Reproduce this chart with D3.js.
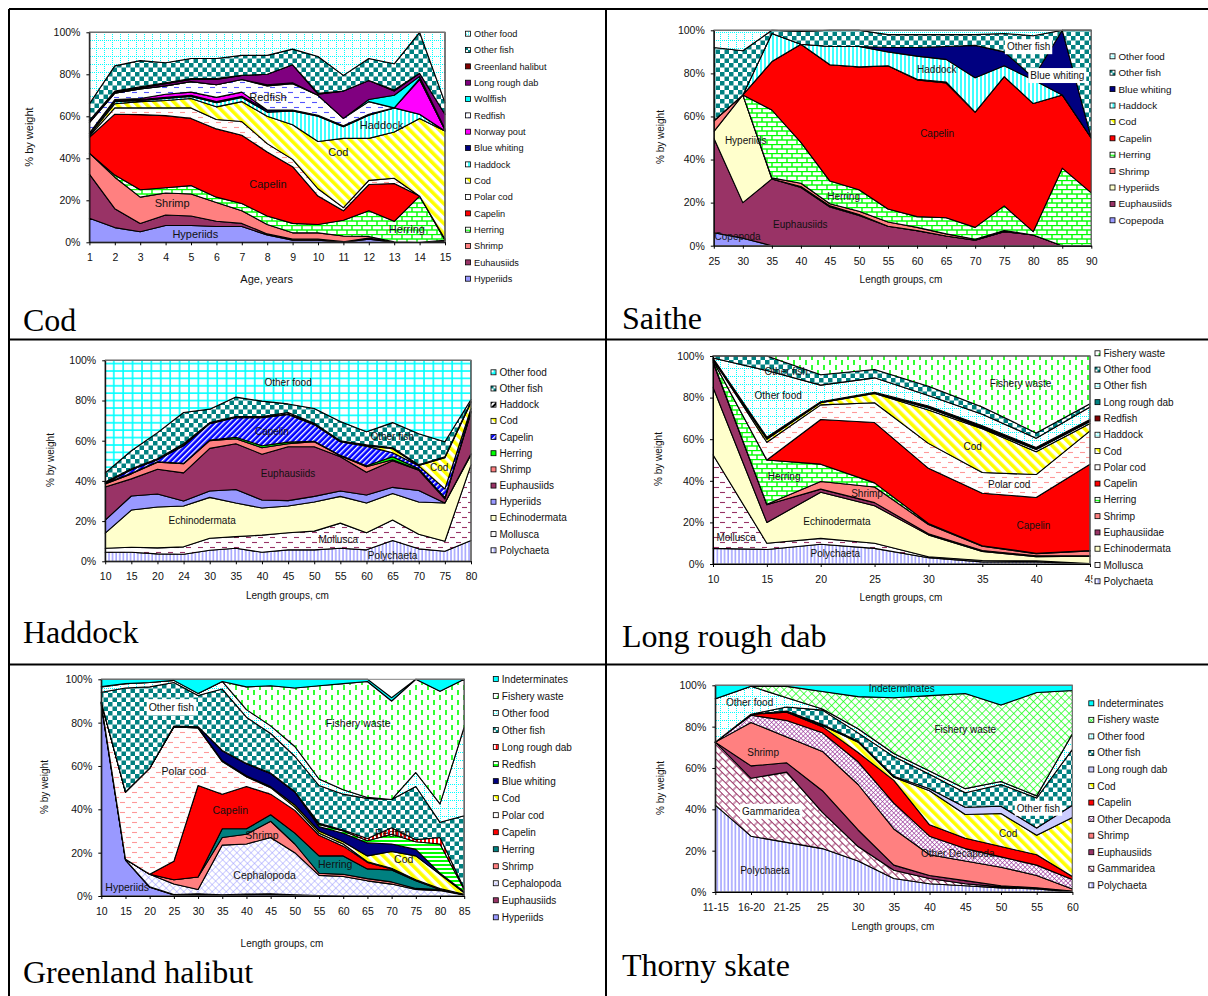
<!DOCTYPE html>
<html>
<head>
<meta charset="utf-8">
<script src="https://cdnjs.cloudflare.com/ajax/libs/d3/7.8.5/d3.min.js"></script>
<style>
  body { margin: 0; background: #fff; }
  text { font-family: "Liberation Sans", Arial, sans-serif; font-size: 10px; fill: #111; }
  .title { font-family: "Liberation Serif", "Times New Roman", serif; font-size: 32px; fill: #000; }
  .domain, .tick line { stroke: #000; }
</style>
</head>
<body>
<div id="chart"></div>
<script>
// all series: cumulative % (top edge of each band), bottom band first
var codAges = ["1","2","3","4","5","6","7","8","9","10","11","12","13","14","15"];
var codNames = ["Hyperiids","Euhausiids","Shrimp","Herring","Capelin","Polar cod","Cod","Haddock","Blue whiting","Norway pout","Redfish","Wolffish","Long rough dab","Greenland halibut","Other fish","Other food"];
var codTops = [
  [11.5,7,5,8,8,7.5,7.5,3.5,1,1,0,1.5,0,0,0],
  [32.5,16,9,13,12.5,10,9,4,1.5,1.5,0.3,2,0,0,0.5],
  [42.5,31,21.5,23.5,23,19,15,8.5,4.5,4.5,3,2.8,0.2,0,1],
  [42.5,32,25,26,27,21.5,18.5,12.5,9,8.5,10.5,15,10,22,1],
  [50,61,60.8,60.3,59,54,51,43,36,22,15,27.5,28,22,1.5],
  [50.5,64,64,64,64,58.5,57.5,47,39.5,25.5,16.5,29.5,30.5,22,1.5],
  [51,66,67,67.5,68.5,64.5,67,60,56,48,49.5,49.5,52.5,59,53],
  [52,67,67.5,68.5,69.5,66.5,69,62,62.5,60,55,60.5,64,61,53],
  [52,67.5,68,69,70,67,69.5,63,63,60.5,55.5,61,64,61,53],
  [52,68,68.5,70.5,71.5,69,71.5,63,63,60.5,55.5,61,64,77.5,53.5],
  [57,71,73,74.5,76.5,75,77.5,74.5,75.5,70,59,67,64,78,53.5],
  [57,71,73,74.5,76.5,75,77.5,75,76,70,59,68,70,79,54],
  [58,71.5,73.5,75.5,77.5,77.5,79.5,80,84.5,70.5,72,77,72,80.5,61],
  [58,72,74,76,78,78,79.5,80,84.5,71,72,77,72.5,80.5,61],
  [66,84,86.5,85.5,87.5,87.5,89,89,92,88.5,79.5,87.5,85,100,66.5],
  [100,100,100,100,100,100,100,100,100,100,100,100,100,100,100]
];

var saitheLengths = ["25","30","35","40","45","50","55","60","65","70","75","80","85","90"];
var saitheNames = ["Copepoda","Euphausiids","Hyperiids","Shrimp","Herring","Capelin","Cod","Haddock","Blue whiting","Other fish","Other food"];
var saitheTops = [
  [6,3.5,0,0,0,0,0,0,0,0,0,0,0,0],
  [50,20,31,27,18,14,9,7,4.5,2.5,6.5,5,0,0],
  [53,70,31,27.5,18.5,14.5,9,7,4.5,2.5,6.5,5,0,0],
  [58,70,31.5,29,19.5,16,11,8.5,5.5,3,7,5,0,0],
  [58,70,63,48,30,26,17,13.5,13,8.5,18.5,6.5,36,24.5],
  [58,70,85.5,93.5,84,83,83.5,77,75.5,62,78.5,66,70,50],
  [58,70,85.5,93.5,84,83,83.5,77.3,76,62,78.5,66,70,50],
  [58,70,98.5,93.5,92.5,92.5,90,88,86.5,78,83.5,77,70,50],
  [58,70,98.5,93.5,92.5,92.5,92,92,92.5,93,90,78,100,50],
  [92,90.5,100,99.5,100,100,98,98,98,98,98.5,97.5,100,100],
  [100,100,100,100,100,100,100,100,100,100,100,100,100,100]
];

var haddockLengths = ["10","15","20","24","30","35","40","45","50","55","60","65","70","75","80"];
var haddockNames = ["Polychaeta","Mollusca","Echinodermata","Hyperiids","Euphausiids","Shrimp","Herring","Capelin","Cod","Haddock","Other fish","Other food"];
var haddockTops = [
  [4.5,4.5,3.7,3.5,5.5,6.5,4.5,5.7,5.7,6.5,5.7,10.3,6.2,5,10.3],
  [6.5,7,6.7,7.2,11.5,12.3,13,14.2,15,19,14.2,20.5,13.5,10,48],
  [14,25.5,27,27.5,31.8,29,26.5,27.5,29.5,32.3,29,33.7,29.5,29,53],
  [20.5,32.5,33.5,30,35,35.7,30.5,30.2,32.3,35,33,36.8,35.2,29,53.5],
  [37,41,45.8,44,56.2,58.5,53.3,57,57,52,44.3,50,45.3,31,74],
  [38.5,43.5,49.3,48.5,60,61,56.5,58.5,59.5,52.5,47,50.5,45.5,31.5,74.5],
  [38.8,43.8,49.5,48.7,60.3,61.7,57.5,59.3,59.7,52.7,47.5,52,46,31.7,74.7],
  [39,45.5,50.5,57.5,68.5,71.5,71.5,73,68,59.5,57.3,54,47.5,36,76],
  [39.2,45.7,50.7,57.7,68.7,71.7,71.7,73.3,68.3,59.7,57.5,56,47.7,51.5,79],
  [39.5,46,51,58.5,69,72,72,74,68.7,60,58,56.5,48,52,79.5],
  [44,55,64,74,75.7,81.7,79.7,78.3,76,69.5,64.5,69,63.5,59.5,80.5],
  [100,100,100,100,100,100,100,100,100,100,100,100,100,100,100]
];

var dabLengths = ["10","15","20","25","30","35","40","45"];
var dabNames = ["Polychaeta","Mollusca","Echinodermata","Euphausiidae","Shrimp","Herring","Capelin","Polar cod","Cod","Haddock","Redfish","Long rough dab","Other fish","Other food","Fishery waste"];
var dabTops = [
  [7.5,7,9.5,7.5,3,1,1,0],
  [52.5,10,12.3,10,3.5,1.7,1.5,0.2],
  [85,20,34.5,28,14,6,3.5,3.8],
  [97,28.5,36,29.5,14.5,6.5,4,4],
  [97.5,28.7,39.7,37,19,8.5,5,6.3],
  [98,50,48,39,19.5,8.8,5.2,6.5],
  [98,50,69.5,68,46,34,32,48],
  [98.5,58.5,76.5,77.5,58,44,43,64],
  [98.5,60,77.5,82,74,65,54,67.5],
  [98.7,60.5,77.7,82.2,75,65.5,55,68.5],
  [98.8,60.7,78,82.5,75.5,66,55.5,69],
  [99,61,78,82.5,76,66.5,56,69.5],
  [99,93,86,89.5,81,72,60.5,75.5],
  [100,100,91,93.5,85.5,75.5,63,77],
  [100,100,100,100,100,100,100,100]
];

var halibutLengths = ["10","15","20","25","30","35","40","45","50","55","60","65","70","75","80","85"];
var halibutNames = ["Hyperiids","Euphausiids","Cephalopoda","Shrimp","Herring","Capelin","Polar cod","Cod","Blue whiting","Redfish","Long rough dab","Other fish","Other food","Fishery waste","Indeterminates"];
var halibutTops = [
  [88,16.5,4,0.5,0.5,0.3,0.5,0.7,0.3,0,0,0,0,0,0,0],
  [88.5,16.7,4.2,0.7,1,0.6,0.9,1,0.6,0.2,0,0,0,0,0,0],
  [89,17,10,5.5,3,23.5,24,27,20,9.5,9,7,5.5,3,2.5,0.5],
  [89,17,10,7.5,8.8,27,28.5,34.5,24,10.5,10,8,6.5,3.5,3,0.5],
  [89,17,10,7.5,8.8,31,31,37.5,29,18.5,18.5,12.5,12,7,3,0.5],
  [89,17,10,16,51,47,50.5,47,39.5,28,23,15.5,12.5,7.3,3.2,0.7],
  [89.3,48,59,78,77.5,62,55,50,41,29,24,15.8,12.8,7.5,3.4,0.8],
  [89.4,48,59,78,77.7,62.5,55.5,50.5,42,30,25,18.5,20.5,18.5,10,1.5],
  [89.5,48,59,78.3,78,67,61,56.5,48,32,29,24.5,24,21.5,10.5,2],
  [89.5,48,59,78.3,78,67,61,56.5,48,33,30,25.5,28.5,25,24,3],
  [89.5,48,59,78.4,78.1,67.2,61.2,56.7,48.2,33.5,30.5,26.5,31.5,26,27,3.5],
  [94,96,96.5,98.5,92.5,95.5,82.5,75,64.5,51,47,45,44.5,50.5,34,37],
  [96.5,98,98.5,99.5,93.5,99,86,78.5,69,54,49,45.5,44.5,57,42.5,78],
  [96.7,98,98.5,99.5,93.5,99,96.5,97,96,97,98,99,90,100,94.5,100],
  [100,100,100,100,100,100,100,100,100,100,100,100,91.5,100,100,100]
];

var skateLengths = ["11-15","16-20","21-25","25","30","35","40","45","50","55","60"];
var skateNames = ["Polychaeta","Gammaridea","Euphausiids","Shrimp","Other Decapoda","Capelin","Cod","Long rough dab","Other fish","Other food","Fishery waste","Indeterminates"];
var skateTops = [
  [42,27,24,21,15,6.5,4,3,2,1.5,0],
  [72.5,55,58,38.5,22,10.5,6.5,4,2.5,2,0.2],
  [72.5,61,62.5,49,30,13,8,5.5,3,2,0.5],
  [72.5,82,75,68,52,30.5,18,15,12,8,1.5],
  [72.5,85.5,83,77,63,43,27,21,17,13,6],
  [72.5,86,87,80,67.5,54,32.5,26,22,18,7.5],
  [72.5,86,87.3,80.5,72.5,55.5,49,37.5,38,27.5,36],
  [72.5,86,87.5,81,73,56,50,41,41.5,31,42],
  [72.5,86,89.5,88,77,65.5,57,48,52,45.5,69],
  [93.5,99.5,94,88.5,79,67,58.5,50,53.5,46.5,76.5],
  [93.5,99.5,99.5,97,94.5,94,95,96,90.5,96.5,97.5],
  [100,100,100,100,100,100,100,100,100,100,100]
];

var yTicks = [0, 20, 40, 60, 80, 100];

var svg = d3.select("#chart").append("svg")
    .attr("width", 1208)
    .attr("height", 996)
    .style("display", "block");

var defs = svg.append("defs");

function makePattern(id, w, h, bg, transform) {
  var p = defs.append("pattern")
      .attr("id", id)
      .attr("patternUnits", "userSpaceOnUse")
      .attr("width", w)
      .attr("height", h);
  if (transform) p.attr("patternTransform", transform);
  p.append("rect").attr("width", w).attr("height", h).attr("fill", bg || "#fff");
  return p;
}
function seg(p, x1, y1, x2, y2, color, width, dash) {
  p.append("line")
      .attr("x1", x1).attr("y1", y1).attr("x2", x2).attr("y2", y2)
      .attr("stroke", color).attr("stroke-width", width)
      .attr("stroke-dasharray", dash || null);
}
function dashes(id, color) {
  var p = makePattern(id, 12, 10);
  seg(p, 0, 2.5, 5, 2.5, color, 1.1);
  seg(p, 6, 7.5, 11, 7.5, color, 1.1);
}
function hatch(id, size, color, width) {
  var p = makePattern(id, size, size, "#fff", "rotate(45)");
  seg(p, 0, 0, size, 0, color, width);
  seg(p, 0, 0, 0, size, color, width);
}

var p;
p = makePattern("check", 9, 9);
p.append("rect").attr("width", 4.5).attr("height", 4.5).attr("fill", "#008080");
p.append("rect").attr("x", 4.5).attr("y", 4.5).attr("width", 4.5).attr("height", 4.5).attr("fill", "#008080");

p = makePattern("dots", 8, 8);
seg(p, 0.5, 0, 0.5, 8, "#00ffff", 1, "1 1");
seg(p, 0, 0.5, 8, 0.5, "#00ffff", 1, "1 1");

p = makePattern("vcyan", 4, 4);
seg(p, 1, 0, 1, 4, "#00ffff", 1.5);

p = makePattern("vblue", 3.6, 4);
seg(p, 1, 0, 1, 4, "#9999ff", 1.4);

p = makePattern("vred", 4, 4);
seg(p, 1, 0, 1, 4, "#ff0000", 2);

p = makePattern("hgreen", 4, 4);
seg(p, 0, 1, 4, 1, "#00ff00", 2);

p = makePattern("bigGrid", 9.4, 7.4);
seg(p, 1, 0, 1, 7.4, "#00ffff", 1.6);
seg(p, 0, 1, 9.4, 1, "#00ffff", 1.6);

p = makePattern("yellowDiag", 7, 7, "#fff", "rotate(-45)");
seg(p, 1.8, 0, 1.8, 7, "#ffff00", 3.6);

p = makePattern("blackDiag", 4, 4, "#fff", "rotate(45)");
seg(p, 1, 0, 1, 4, "#000", 2);

p = makePattern("blueDiag", 4, 4, "#0000ff", "rotate(45)");
seg(p, 0.5, 0, 0.5, 4, "#fff", 1.7);

p = makePattern("brick", 10, 9);
seg(p, 0, 0.5, 10, 0.5, "#00ff00", 1.4);
seg(p, 0, 5, 10, 5, "#00ff00", 1.4);
seg(p, 2, 0.5, 2, 5, "#00ff00", 1.4);
seg(p, 7, 5, 7, 9, "#00ff00", 1.4);

p = makePattern("vgreen", 12, 10);
seg(p, 2, 0, 2, 5, "#00ff00", 1.6);
seg(p, 8, 5, 8, 10, "#00ff00", 1.6);

p = makePattern("weave", 10, 10, "#fff", "rotate(45)");
seg(p, 0, 0.5, 10, 0.5, "#993366", 1);
seg(p, 0, 5.5, 10, 5.5, "#993366", 1);
seg(p, 2, 0.5, 2, 5.5, "#993366", 1);
seg(p, 7, 5.5, 7, 10, "#993366", 1);

dashes("dashBlue", "#5555ff");
dashes("dashPink", "#ff9999");
dashes("dashPlum", "#993366");
hatch("greenHatch", 5.6, "#00ff00", 1.3);
hatch("plumHatch", 3.2, "#993399", 1.2);
hatch("blueHatch", 5, "#9999ff", 1);

function url(id) { return "url(#" + id + ")"; }

var check = url("check"), dots = url("dots"), vcyan = url("vcyan"), vblue = url("vblue"),
    yellowDiag = url("yellowDiag"), brick = url("brick"), dashPink = url("dashPink"),
    dashPlum = url("dashPlum"), vgreen = url("vgreen");

function drawPanel(o) {
  var x = d3.scalePoint().domain(o.cats).range([o.left, o.right]);
  var y = d3.scaleLinear().domain([0, 100]).range([o.bottom, o.top]);
  var step = x.step();
  var labelFont = (o.labelFont || 10) + "px";

  var g = svg.append("g");

  var area = d3.area()
      .x((d, i) => x(o.cats[i]))
      .y0(d => y(d[0]))
      .y1(d => y(d[1]));

  var bands = o.tops.map((top, k) => top.map((v, i) => [k ? o.tops[k - 1][i] : 0, v]));

  g.selectAll("path.band")
      .data(bands)
    .join("path")
      .attr("class", "band")
      .attr("d", area)
      .attr("fill", (d, k) => o.fills[k])
      .attr("stroke", "#000")
      .attr("stroke-width", 1.1)
      .attr("stroke-linejoin", "round");

  g.append("rect")
      .attr("x", o.left)
      .attr("y", o.top)
      .attr("width", o.right - o.left)
      .attr("height", o.bottom - o.top)
      .attr("fill", "none")
      .attr("stroke", "#808080");

  // labels typed over the chart, some of them on a white box
  o.labels.forEach(function(l) {
    var t = g.append("text")
        .attr("x", o.left + l[1] * step)
        .attr("y", y(l[2]))
        .attr("dy", "0.35em")
        .attr("text-anchor", "middle")
        .style("font-size", labelFont)
        .text(l[0]);
    if (l[3]) {
      var b = t.node().getBBox();
      g.insert("rect", function() { return t.node(); })
          .attr("x", b.x - 2).attr("y", b.y - 2)
          .attr("width", b.width + 4).attr("height", b.height + 4)
          .attr("fill", "#fff");
    }
  });

  var legendX = o.legendX;
  // legend box is white and sits over the chart, it can cut the last tick label
  var xAxis = g.append("g")
      .attr("transform", "translate(0," + o.bottom + ")")
      .call(d3.axisBottom(x).tickSize(3).tickSizeOuter(0).tickPadding(8.5));
  xAxis.selectAll("text").attr("fill", "#111").style("font-size", "10.5px");

  var yAxis = g.append("g")
      .attr("transform", "translate(" + o.left + ",0)")
      .call(d3.axisLeft(y).tickValues(yTicks).tickFormat(d => d + "%").tickSize(3).tickSizeOuter(0).tickPadding(6));
  yAxis.selectAll("text").attr("fill", "#111").style("font-size", "10.5px");

  g.append("text")
      .attr("x", o.xTitle[0])
      .attr("y", o.xTitle[1])
      .attr("dy", "0.35em")
      .attr("text-anchor", "middle")
      .style("font-size", (o.titleFont || 10) + "px")
      .text(o.xLabel);

  g.append("text")
      .attr("transform", "translate(" + o.yTitle[0] + "," + o.yTitle[1] + ") rotate(-90)")
      .attr("dy", "0.35em")
      .attr("text-anchor", "middle")
      .style("font-size", (o.titleFont || 10) + "px")
      .text("% by weight");

  var legend = g.append("g");
  legend.append("rect")
      .attr("x", legendX - 5)
      .attr("y", o.legendY[0] - 8)
      .attr("width", 112)
      .attr("height", o.legendY[1] - o.legendY[0] + 16)
      .attr("fill", "#fff");

  var names = o.names.slice().reverse();
  var fills = o.fills.slice().reverse();
  var ly = d3.scalePoint().domain(names).range(o.legendY);

  var row = legend.selectAll("g.row")
      .data(names)
    .join("g")
      .attr("class", "row")
      .attr("transform", d => "translate(" + legendX + "," + ly(d) + ")");

  row.append("rect")
      .attr("x", -2.5).attr("y", -2.5)
      .attr("width", 5).attr("height", 5)
      .attr("fill", (d, i) => fills[i])
      .attr("stroke", "#000")
      .attr("stroke-width", 0.8);

  row.append("text")
      .attr("x", 6)
      .attr("dy", "0.35em")
      .style("font-size", (o.legendFont || 10) + "px")
      .text(d => d);

  svg.append("text")
      .attr("class", "title")
      .attr("x", o.titlePos[0])
      .attr("y", o.titlePos[1])
      .text(o.title);
}

drawPanel({
  title: "Cod", titlePos: [23, 331],
  cats: codAges, names: codNames, tops: codTops,
  fills: ["#9999ff","#993366","#ff8080",brick,"#ff0000",dashPink,yellowDiag,vcyan,"#000080","#ff00ff",url("dashBlue"),"#00ffff","#800080","#800000",check,dots],
  left: 89.4, right: 445, top: 32.3, bottom: 242.3,
  xLabel: "Age, years", xTitle: [266.6, 279], yTitle: [29, 137],
  legendX: 468, legendY: [33.7, 278.7], legendFont: 9.2, labelFont: 11, titleFont: 11,
  labels: [["Hyperiids",4.17,4],["Shrimp",3.26,18.6],["Capelin",7.03,27.8],["Herring",12.5,6.2],["Cod",9.8,43],["Haddock",11.5,55.9],["Redfish",7.03,69]]
});

drawPanel({
  title: "Saithe", titlePos: [622, 329],
  cats: saitheLengths, names: saitheNames, tops: saitheTops,
  fills: ["#9999ff","#993366","#ffffcc","#ff8080",brick,"#ff0000",yellowDiag,vcyan,"#000080",check,dots],
  left: 713.8, right: 1091.3, top: 30.3, bottom: 245.7,
  xLabel: "Length groups, cm", xTitle: [901, 279], yTitle: [660, 137],
  legendX: 1112.5, legendY: [56.3, 220.3], legendFont: 9.8,
  labels: [["Copepoda",0.82,4.2],["Euphausiids",2.98,9.9],["Herring",4.47,22.8],["Capelin",7.69,52],["Haddock",7.68,81.9],["Hyperiids",1.1,48.8],["Other fish",10.84,92.4,true],["Blue whiting",11.83,79,true]]
});

drawPanel({
  title: "Haddock", titlePos: [23, 643],
  cats: haddockLengths, names: haddockNames, tops: haddockTops,
  fills: [vblue,dashPlum,"#ffffcc","#9999ff","#993366","#ff8080","#00ff00",url("blueDiag"),yellowDiag,url("blackDiag"),check,url("bigGrid")],
  left: 105.2, right: 471, top: 360.3, bottom: 561.3,
  xLabel: "Length groups, cm", xTitle: [287.4, 595], yTitle: [50, 460],
  legendX: 493.5, legendY: [372.3, 550.3],
  labels: [["Polychaeta",11,2.8],["Mollusca",8.92,10.9],["Echinodermata",3.71,20.4],["Euphausiids",7,43.8],["Capelin",6.38,64.7],["Other fish",10.98,62],["Cod",12.78,46.8],["Other food",7,89]]
});

drawPanel({
  title: "Long rough dab", titlePos: [622, 647],
  cats: dabLengths, names: dabNames, tops: dabTops,
  fills: [vblue,dashPlum,"#ffffcc","#993366","#ff8080",brick,"#ff0000",dashPink,yellowDiag,dots,"#800000","#008080",dots,check,vgreen],
  left: 713, right: 1090, top: 356, bottom: 564,
  xLabel: "Length groups, cm", xTitle: [901, 597], yTitle: [658, 459],
  legendX: 1097.5, legendY: [353.3, 581.3],
  labels: [["Polychaeta",2.27,5.1],["Mollusca",0.43,12.8],["Echinodermata",2.3,20.5],["Shrimp",2.86,34],["Herring",1.32,42],["Capelin",5.95,18.4],["Polar cod",5.5,38.3],["Cod",4.82,56.6],["Other food",1.21,81],["Other fish",1.36,92.5],["Fishery waste",5.71,86.9]]
});

drawPanel({
  title: "Greenland halibut", titlePos: [23, 983],
  cats: halibutLengths, names: halibutNames, tops: halibutTops,
  fills: ["#9999ff","#993366",url("blueHatch"),"#ff8080","#008080","#ff0000",dashPink,yellowDiag,"#000080",url("hgreen"),url("vred"),check,dots,vgreen,"#00ffff"],
  left: 101.3, right: 464.2, top: 679.3, bottom: 896,
  xLabel: "Length groups, cm", xTitle: [282, 943], yTitle: [44, 787],
  legendX: 495.8, legendY: [679, 917.3], labelFont: 10.5,
  labels: [["Hyperiids",1.07,3.8],["Cephalopoda",6.75,9.7],["Shrimp",6.64,28],["Herring",9.67,14.6],["Capelin",5.33,39.5],["Polar cod",3.41,57.5],["Other fish",2.9,87,true],["Fishery waste",10.62,79.7],["Redfish",12.05,29],["Cod",12.5,17]]
});

drawPanel({
  title: "Thorny skate", titlePos: [622, 976],
  cats: skateLengths, names: skateNames, tops: skateTops,
  fills: [vblue,url("weave"),"#993366","#ff8080",url("plumHatch"),"#ff0000",yellowDiag,"#ccccff",check,dots,url("greenHatch"),"#00ffff"],
  left: 715.3, right: 1072.4, top: 685.3, bottom: 892,
  xLabel: "Length groups, cm", xTitle: [893, 926], yTitle: [660, 788],
  legendX: 1091.3, legendY: [703.3, 885.3],
  labels: [["Polychaeta",1.39,10.3],["Gammaridea",1.56,39,true],["Shrimp",1.34,67.6],["Other food",0.96,91.8],["Indeterminates",5.22,98.5],["Fishery waste",7,78.7],["Other Decapoda",6.79,18.7],["Cod",8.2,28.4],["Other fish",9.05,40.5,true]]
});

// table lines between the six charts
var rules = [[9, 9, 1208, 9], [9, 339.5, 1208, 339.5], [9, 664.5, 1208, 664.5], [9, 9, 9, 996], [606, 9, 606, 996]];
svg.selectAll("line.rule")
    .data(rules)
  .join("line")
    .attr("class", "rule")
    .attr("x1", d => d[0]).attr("y1", d => d[1])
    .attr("x2", d => d[2]).attr("y2", d => d[3])
    .attr("stroke", "#000")
    .attr("stroke-width", 2);
</script>
</body>
</html>
